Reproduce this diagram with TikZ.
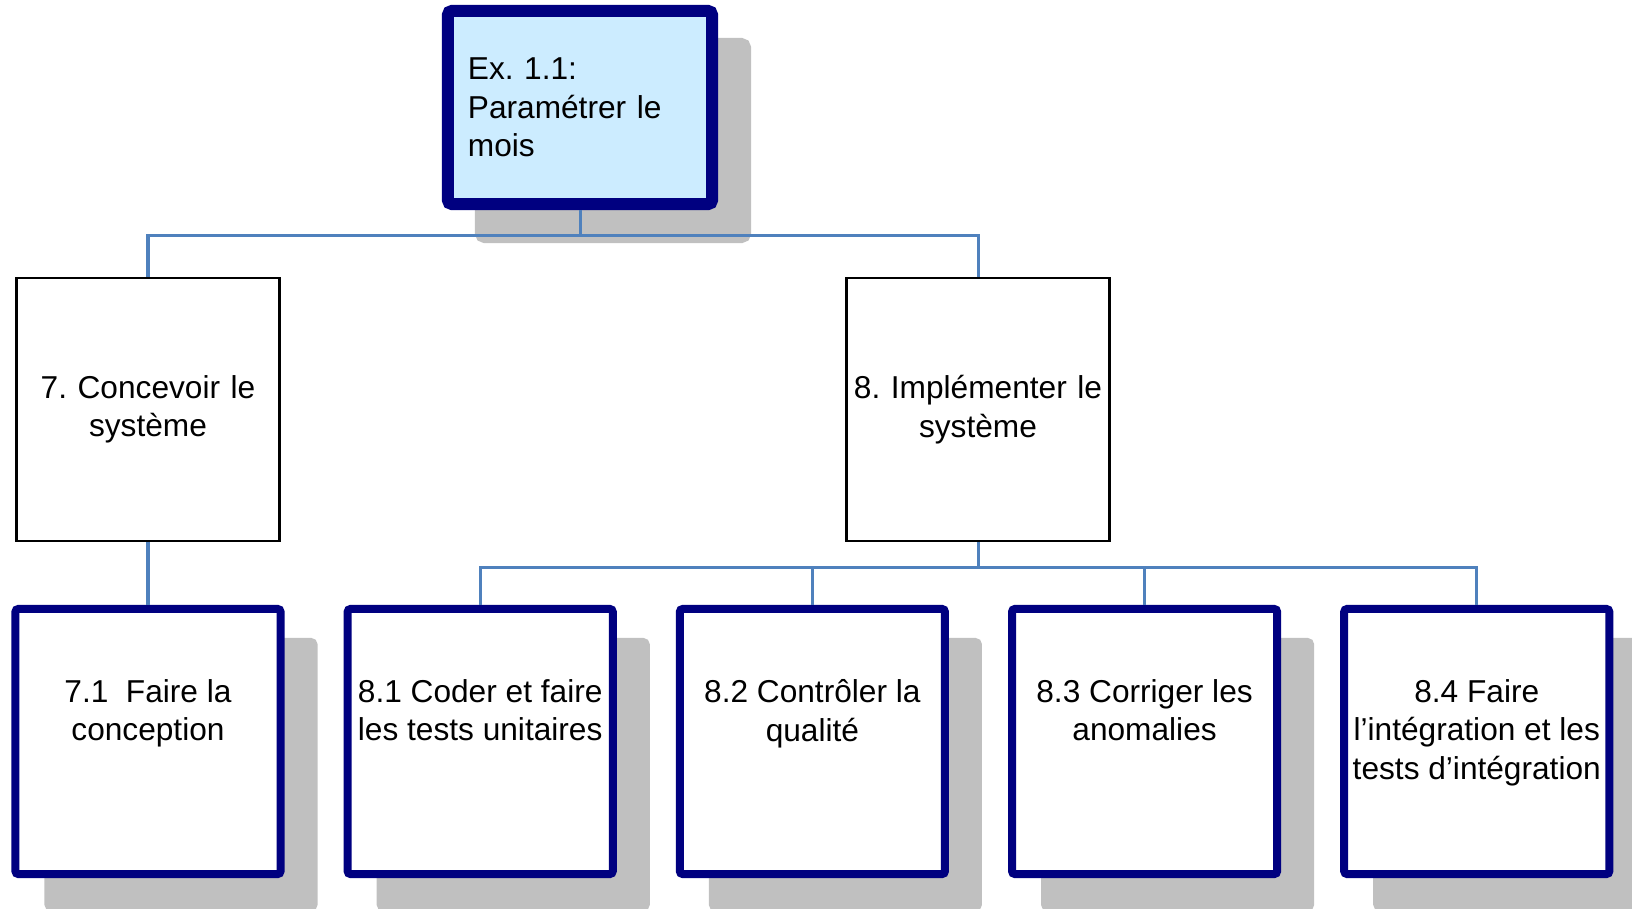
\documentclass[tikz,border=0pt]{standalone}
\usepackage{fontspec}
\setmainfont{Liberation Sans}
\usetikzlibrary{positioning}
\frenchspacing

\definecolor{boxnavy}{HTML}{000080}
\definecolor{rootfill}{HTML}{CCECFF}
\definecolor{shadowgray}{HTML}{C0C0C0}
\definecolor{linkblue}{HTML}{4F81BD}

\begin{document}
\begin{tikzpicture}[
    x=0.01cm, y=-0.01cm,
    every node/.style={font=\fontsize{9}{10.9}\selectfont},
    shadowed/.style={preaction={draw=shadowgray, fill=shadowgray, transform canvas={shift={(0.33cm,-0.33cm)}}}},
    rootbox/.style={rectangle, draw=boxnavy, line width=0.12cm, fill=rootfill, rounded corners=0.04cm, minimum width=2.64cm, minimum height=1.93cm, text width=2.24cm, inner xsep=0.2cm, align=left, shadowed},
    phase/.style={rectangle, draw=black, line width=0.025cm, fill=white, minimum width=2.63cm, minimum height=2.63cm, text width=2.55cm, inner xsep=0.04cm, align=center},
    task/.style={rectangle, draw=boxnavy, line width=0.08cm, fill=white, rounded corners=0.03cm, minimum width=2.65cm, minimum height=2.65cm, shadowed},
    tasktext/.style={align=center, inner sep=0pt},
    link/.style={draw=linkblue, line width=0.03cm}
]
\useasboundingbox (0,0) rectangle (1632,908);

% Root task
\node[rootbox] (root) at (580,107.5) {Ex. 1.1:\\Paramétrer le\\mois};

% Phases
\node[phase] (p7) at (148,409.5) {7. Concevoir le\\système};
\node[phase] (p8) at (978,409.5) {8. Implémenter le\\système};

% Work packages
\node[task] (t71) at (148,741.5) {};
\node[task, right=0.59cm of t71] (t81) {};
\node[task, right=0.59cm of t81] (t82) {};
\node[task, right=0.59cm of t82] (t83) {};
\node[task, right=0.59cm of t83] (t84) {};

% Work package labels, set at the top of each box
\node[tasktext, below=0.74cm of t71.north] (l71) {7.1\ \ Faire la\\conception};
\node[tasktext, below=0.74cm of t81.north] (l81) {8.1 Coder et faire\\les tests unitaires};
\node[tasktext, below=0.74cm of t82.north] (l82) {8.2 Contrôler la\\qualité};
\node[tasktext, below=0.74cm of t83.north] (l83) {8.3 Corriger les\\anomalies};
\node[tasktext, below=0.74cm of t84.north] (l84) {8.4 Faire\\l’intégration et les\\tests d’intégration};

% Links from the root
\coordinate (bus1) at (580,235);
\draw[link] (root.south) -- (bus1);
\draw[link] (p7.north) |- (bus1) -| (p8.north);

% Links below the phases
\draw[link] (p7.south) -- (t71.north);
\coordinate (bus2) at (978,567);
\draw[link] (p8.south) -- (bus2);
\draw[link] (t81.north) |- (bus2) -| (t84.north);
\draw[link] (t82.north) -- (t82.north |- bus2);
\draw[link] (t83.north) -- (t83.north |- bus2);

\end{tikzpicture}
\end{document}
